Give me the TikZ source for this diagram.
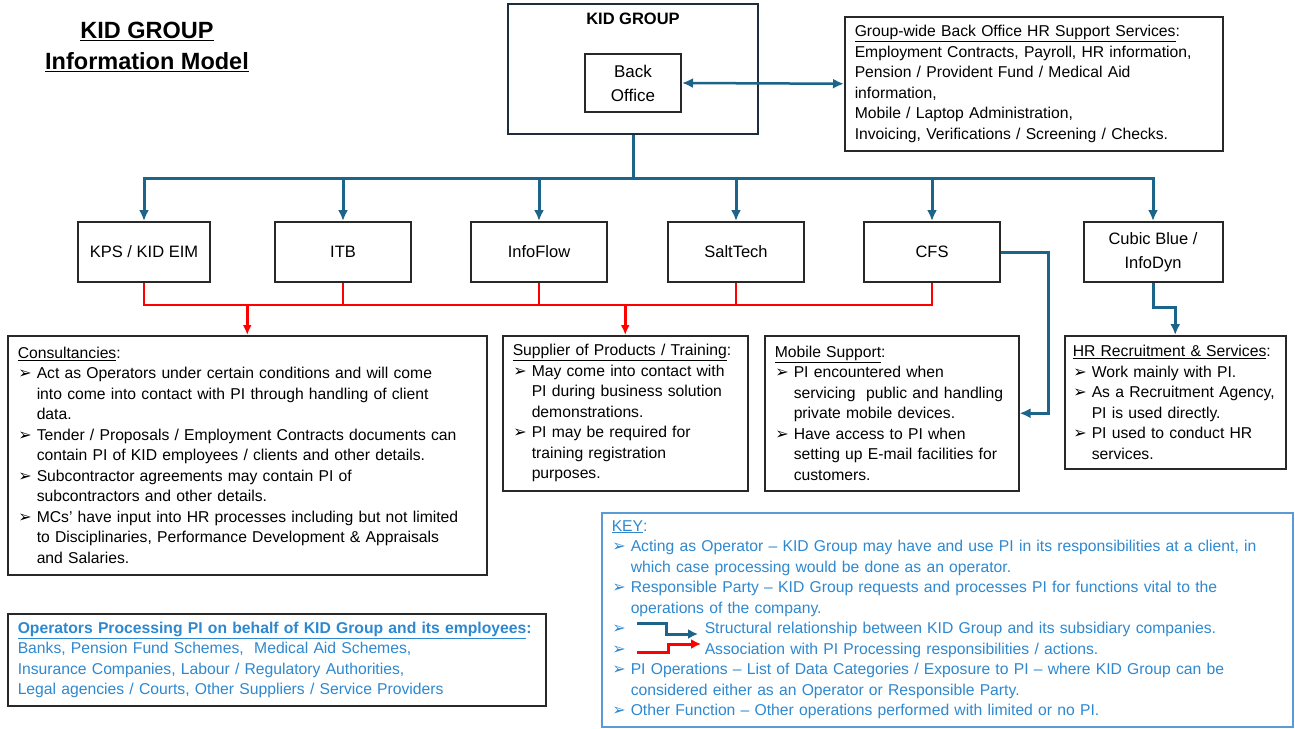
\documentclass[tikz,border=0pt]{standalone}
\usepackage{fontspec}
\setmainfont{Liberation Sans}
\newfontfamily\dingfont{DejaVu Sans}
\usetikzlibrary{positioning,arrows.meta}

\definecolor{linkblue}{RGB}{28,100,138}
\definecolor{keyblue}{RGB}{46,136,208}
\definecolor{keyframe}{RGB}{91,155,213}
\definecolor{boxline}{RGB}{40,40,40}
\definecolor{navyline}{RGB}{30,45,62}

\newcommand{\arrowbullet}{{\dingfont\fontsize{16}{16}\selectfont ➢}}
\newenvironment{pilist}{\begin{list}{\arrowbullet}{%
  \setlength{\leftmargin}{19pt}\setlength{\labelwidth}{14pt}%
  \setlength{\labelsep}{5pt}\setlength{\itemsep}{0pt}%
  \setlength{\topsep}{0pt}\setlength{\partopsep}{0pt}\setlength{\parsep}{0pt}}}%
  {\end{list}}

\begin{document}
\begin{tikzpicture}[x=1pt, y=-1pt,
  subbox/.style={draw=boxline, line width=2pt, minimum width=136pt, minimum height=60pt,
    align=center, font=\fontsize{16.5}{24}\selectfont},
  infobox/.style={draw=boxline, line width=1.5pt, anchor=north west, inner xsep=10pt,
    inner ysep=5pt, align=left, font=\fontsize{15.7}{20.5}\selectfont},
  blueline/.style={draw=linkblue, line width=3pt},
  bluearrow/.style={blueline, -{Latex[length=11pt,width=10pt]}},
  redline/.style={draw=red, line width=2.5pt},
  redarrow/.style={redline, -{Latex[length=10pt,width=9pt]}},
]
\useasboundingbox (0,0) rectangle (1295,728);

% title
\node[font=\bfseries\fontsize{23.5}{31}\selectfont, align=center] (title) at (147,47)
  {\underline{KID GROUP}\\\underline{Information Model}};

% group and back office
\node[draw=navyline, line width=2pt, minimum width=250pt, minimum height=130pt] (kid) at (633,69) {};
\node[font=\bfseries\fontsize{16.5}{20}\selectfont, below=6pt of kid.north] (kidtitle) {KID GROUP};
\node[draw=boxline, line width=2pt, minimum width=96pt, minimum height=58pt, align=center,
  font=\fontsize{17}{24}\selectfont] (back) at (633,83) {Back\\Office};

\node[infobox, text width=358pt, minimum height=134pt] (hrsup) at (844,16)
  {\underline{Group-wide Back Office HR Support Services}:\\
   Employment Contracts, Payroll, HR information,\\
   Pension / Provident Fund / Medical Aid\\
   information,\\
   Mobile / Laptop Administration,\\
   Invoicing, Verifications / Screening / Checks.};

\draw[bluearrow, {Latex[length=11pt,width=10pt]}-{Latex[length=11pt,width=10pt]}, line width=2.5pt]
  (back.east) -- (hrsup.west);

% subsidiaries
\node[subbox, minimum width=132pt] (kps) at (144,252) {KPS / KID EIM};
\node[subbox] (itb) at (343,252) {ITB};
\node[subbox] (infoflow) at (539,252) {InfoFlow};
\node[subbox] (salttech) at (736,252) {SaltTech};
\node[subbox] (cfs) at (932,252) {CFS};
\node[subbox, minimum width=139pt] (cubic) at (1153,252) {Cubic Blue /\\InfoDyn};

\coordinate (bus) at (633,178);
\draw[blueline] (kid.south) -- (bus);
\foreach \n in {kps,itb,infoflow,salttech,cfs,cubic}
  \draw[bluearrow] (bus) -| (\n.north);

% exposure boxes
\node[infobox, text width=459pt, minimum height=239pt] (consult) at (7,335)
  {\underline{Consultancies}:
   \begin{pilist}
   \item Act as Operators under certain conditions and will come\\
     into come into contact with PI through handling of client\\ data.
   \item Tender / Proposals / Employment Contracts documents can\\
     contain PI of KID employees / clients and other details.
   \item Subcontractor agreements may contain PI of\\
     subcontractors and other details.
   \item MCs' have input into HR processes including but not limited\\
     to Disciplinaries, Performance Development \& Appraisals\\ and Salaries.
   \end{pilist}};

\node[infobox, text width=225pt, minimum height=155pt] (supplier) at (502,335)
  {\underline{Supplier of Products / Training}:
   \begin{pilist}
   \item May come into contact with\\ PI during business solution\\ demonstrations.
   \item PI may be required for\\ training registration\\ purposes.
   \end{pilist}};

\node[infobox, text width=234pt, minimum height=155pt] (mobile) at (764,335)
  {\underline{Mobile Support}:
   \begin{pilist}
   \item PI encountered when\\ servicing \ public and handling\\ private mobile devices.
   \item Have access to PI when\\ setting up E-mail facilities for\\ customers.
   \end{pilist}};

\node[infobox, inner xsep=8pt, text width=205pt, minimum height=133pt] (hrrec) at (1064,335)
  {\underline{HR Recruitment \& Services}:
   \begin{pilist}
   \item Work mainly with PI.
   \item As a Recruitment Agency,\\ PI is used directly.
   \item PI used to conduct HR\\ services.
   \end{pilist}};

% PI processing links
\coordinate (redbus) at (0,305);
\draw[redline] (kps.south) |- (cfs.south |- redbus) -- (cfs.south);
\foreach \n in {itb,infoflow,salttech}
  \draw[redline] (\n.south) -- (\n.south |- redbus);
\draw[redarrow] (consult.north |- redbus) -- (consult.north);
\draw[redarrow] (supplier.north |- redbus) -- (supplier.north);

\draw[bluearrow] (cfs.east) -- ++(47,0) |- (mobile.east);
\draw[bluearrow] (cubic.south) -- ++(0,24) -| (hrrec.north);

% operators and key
\node[infobox, text=keyblue, text width=518pt, minimum height=92pt] (operators) at (7,613)
  {\textbf{\underline{Operators Processing PI on behalf of KID Group and its employees}:}\\
   Banks, Pension Fund Schemes, \ Medical Aid Schemes,\\
   Insurance Companies, Labour / Regulatory Authorities,\\
   Legal agencies / Courts, Other Suppliers / Service Providers};

\node[infobox, draw=keyframe, text=keyblue, text width=671pt, minimum height=214pt] (key) at (601,512)
  {\underline{KEY}:
   \begin{pilist}
   \item Acting as Operator -- KID Group may have and use PI in its responsibilities at a client, in\\
     which case processing would be done as an operator.
   \item Responsible Party -- KID Group requests and processes PI for functions vital to the\\
     operations of the company.
   \item \hspace*{74pt}Structural relationship between KID Group and its subsidiary companies.
   \item \hspace*{74pt}Association with PI Processing responsibilities / actions.
   \item PI Operations -- List of Data Categories / Exposure to PI -- where KID Group can be\\
     considered either as an Operator or Responsible Party.
   \item Other Function -- Other operations performed with limited or no PI.
   \end{pilist}};

% key symbols
\draw[blueline, line width=3pt, -{Latex[length=10pt,width=10pt]}] (637,623) -- (666,623) -- (666,634) -- (698,634);
\draw[redline, line width=3pt, -{Latex[length=10pt,width=10pt]}] (637,652) -- (668,652) -- (668,644) -- (701,644);
\end{tikzpicture}
\end{document}
